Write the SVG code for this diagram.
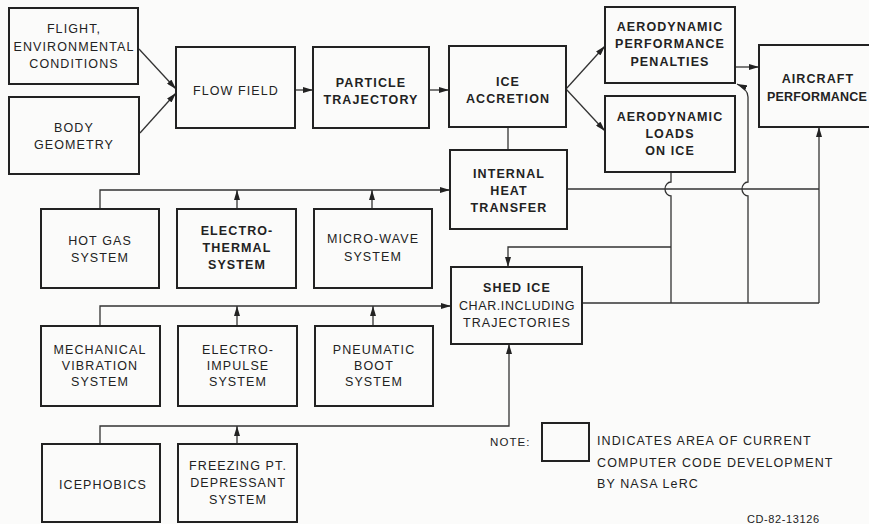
<svg xmlns="http://www.w3.org/2000/svg" width="869" height="524" viewBox="0 0 869 524">
<style>
.box{fill:none;stroke:#222;stroke-width:2}
.c{fill:none;stroke:#333;stroke-width:1.3}
.ca{fill:none;stroke:#333;stroke-width:1.3;marker-end:url(#ah)}
text{font-family:"Liberation Sans",Arial,sans-serif;font-size:12.5px;fill:#222;text-anchor:middle;letter-spacing:1.1px}
.b{font-weight:bold}
.l{text-anchor:start}
</style>
<defs>
<marker id="ah" viewBox="0 0 10 6" refX="10" refY="3" markerWidth="10" markerHeight="6" markerUnits="userSpaceOnUse" orient="auto">
<path d="M0,0 L10,3 L0,6 Z" fill="#222"/>
</marker>
</defs>
<rect width="869" height="524" fill="#fbfbfa"/>

<g id="connectors">
<path class="ca" d="M139,49 L176,89"/>
<path class="ca" d="M140,133 L176,93"/>
<path class="ca" d="M295,90 H313"/>
<path class="ca" d="M429,90 H449"/>
<path class="ca" d="M566,89 L605,46"/>
<path class="ca" d="M566,89 L605,131"/>
<path class="ca" d="M735,67 H759"/>
<path class="c" d="M508,127 V150"/>
<path class="ca" d="M100,209 V190 H450"/>
<path class="ca" d="M237,209 V190"/>
<path class="ca" d="M372,209 V190"/>
<path class="ca" d="M100,326 V306 H451"/>
<path class="ca" d="M237,326 V306"/>
<path class="ca" d="M373,326 V306"/>
<path class="ca" d="M100,444 V426 H509 V344"/>
<path class="ca" d="M237,444 V426"/>
<path class="c" d="M567,189 H819"/>
<path class="c" d="M582,303 H819"/>
<path class="ca" d="M819,303 V127"/>
<path class="c" d="M671,172 V182 A6,7 0 0 0 671,196 V303"/>
<path class="ca" d="M671,247 H508 V267"/>
<path class="ca" d="M748,303 V196 A6,7 0 0 1 748,182 V97 Q748,89 737,84"/>
</g>

<g id="flight"><rect class="box" x="9" y="8" width="129" height="76"/><text x="74" y="33">FLIGHT,</text><text x="74" y="51">ENVIRONMENTAL</text><text x="74" y="68">CONDITIONS</text></g>
<g id="body"><rect class="box" x="9" y="97" width="130" height="77"/><text x="74" y="132">BODY</text><text x="74" y="149">GEOMETRY</text></g>
<g id="flowfield"><rect class="box" x="176" y="47" width="119" height="81"/><text x="236" y="95">FLOW FIELD</text></g>
<g id="particle"><rect class="box" x="313" y="47" width="116" height="81"/><text class="b" x="371" y="87">PARTICLE</text><text class="b" x="371" y="104">TRAJECTORY</text></g>
<g id="iceaccretion"><rect class="box" x="449" y="46" width="117" height="81"/><text class="b" x="508" y="86">ICE</text><text class="b" x="508" y="103">ACCRETION</text></g>
<g id="penalties"><rect class="box" x="605" y="7" width="130" height="76"/><text class="b" x="670" y="31">AERODYNAMIC</text><text class="b" x="670" y="48">PERFORMANCE</text><text class="b" x="670" y="66">PENALTIES</text></g>
<g id="loads"><rect class="box" x="605" y="96" width="130" height="76"/><text class="b" x="670" y="121">AERODYNAMIC</text><text class="b" x="670" y="138">LOADS</text><text class="b" x="670" y="155">ON ICE</text></g>
<g id="aircraft"><rect class="box" x="759" y="45" width="122" height="82"/><text class="b" x="818" y="83">AIRCRAFT</text><text class="b" x="817" y="101" style="letter-spacing:0.2px">PERFORMANCE</text></g>
<g id="internalheat"><rect class="box" x="450" y="150" width="117" height="79"/><text class="b" x="509" y="178">INTERNAL</text><text class="b" x="509" y="195">HEAT</text><text class="b" x="509" y="212">TRANSFER</text></g>
<g id="shedice"><rect class="box" x="451" y="267" width="131" height="77"/><text class="b" x="517" y="292">SHED ICE</text><text x="517" y="310" style="letter-spacing:0.6px">CHAR.INCLUDING</text><text x="517" y="327">TRAJECTORIES</text></g>
<g id="hotgas"><rect class="box" x="41" y="209" width="118" height="79"/><text x="100" y="245">HOT GAS</text><text x="100" y="262">SYSTEM</text></g>
<g id="electrothermal"><rect class="box" x="177" y="209" width="119" height="79"/><text class="b" x="237" y="235">ELECTRO-</text><text class="b" x="237" y="252">THERMAL</text><text class="b" x="237" y="269">SYSTEM</text></g>
<g id="microwave"><rect class="box" x="314" y="209" width="118" height="79"/><text x="373" y="243">MICRO-WAVE</text><text x="373" y="261">SYSTEM</text></g>
<g id="mechanical"><rect class="box" x="41" y="326" width="119" height="80"/><text x="100" y="354">MECHANICAL</text><text x="100" y="370">VIBRATION</text><text x="100" y="386">SYSTEM</text></g>
<g id="electroimpulse"><rect class="box" x="178" y="326" width="119" height="80"/><text x="238" y="354">ELECTRO-</text><text x="238" y="370">IMPULSE</text><text x="238" y="386">SYSTEM</text></g>
<g id="pneumatic"><rect class="box" x="315" y="326" width="118" height="80"/><text x="374" y="354">PNEUMATIC</text><text x="374" y="370">BOOT</text><text x="374" y="386">SYSTEM</text></g>
<g id="icephobics"><rect class="box" x="42" y="444" width="118" height="78"/><text x="103" y="489">ICEPHOBICS</text></g>
<g id="freezing"><rect class="box" x="178" y="444" width="119" height="78"/><text x="238" y="470">FREEZING PT.</text><text x="238" y="487">DEPRESSANT</text><text x="238" y="504">SYSTEM</text></g>
<g id="note"><text class="l" x="490" y="446" style="font-size:11.5px">NOTE:</text><rect class="box" x="542" y="423" width="47" height="38"/><text class="l" x="597" y="445">INDICATES AREA OF CURRENT</text><text class="l" x="597" y="467">COMPUTER CODE DEVELOPMENT</text><text class="l" x="597" y="488">BY NASA LeRC</text><text class="l" x="747" y="523" style="font-size:11px;letter-spacing:0.6px">CD-82-13126</text></g>
</svg>
